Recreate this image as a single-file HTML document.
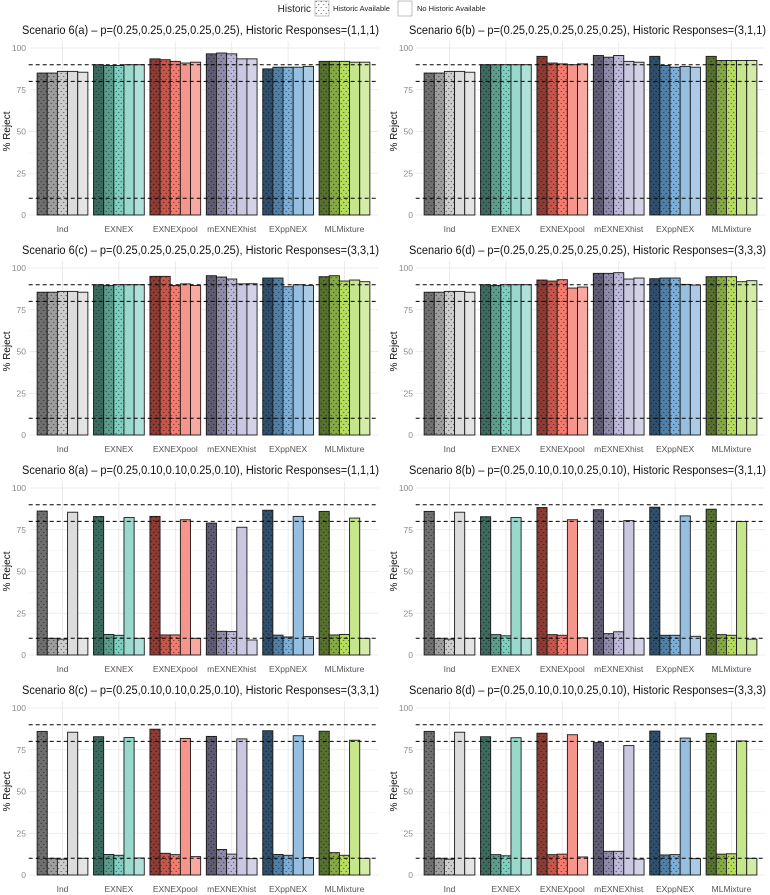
<!DOCTYPE html>
<html><head><meta charset="utf-8">
<style>
html,body{margin:0;padding:0;background:#fff;}
svg{display:block;font-family:"Liberation Sans",sans-serif;}
</style></head>
<body>
<svg id="chart" width="770" height="895" viewBox="0 0 770 895" xmlns="http://www.w3.org/2000/svg">
<defs>
<pattern id="dots" patternUnits="userSpaceOnUse" width="5" height="6">
<circle cx="1.2" cy="1.5" r="0.65" fill="rgba(0,0,0,0.55)"/>
<circle cx="3.7" cy="4.5" r="0.65" fill="rgba(0,0,0,0.55)"/>
</pattern>
</defs>
<g id="legend">
<text x="311" y="12" font-size="10" text-anchor="end" fill="#222">Historic</text>
<g>
<rect x="315" y="1" width="14" height="15" fill="#fff" stroke="#999" stroke-width="0.6"/>
<rect x="315" y="1" width="14" height="15" fill="url(#dots)"/>
<text x="333" y="11" font-size="7.5" fill="#222">Historic Available</text>
</g>
<g>
<rect x="398" y="1" width="14" height="15" fill="#fff" stroke="#999" stroke-width="0.6"/>
<text x="417" y="11" font-size="7.5" fill="#222">No Historic Available</text>
</g>
</g>
</svg>
<script>
const methods = ["Ind","EXNEX","EXNEXpool","mEXNEXhist","EXppNEX","MLMixture"];
const yTicks = [0,25,50,75,100];
const refLines = [10,80,90];
const titles = [
 "Scenario 6(a) \u2013 p=(0.25,0.25,0.25,0.25,0.25), Historic Responses=(1,1,1)",
 "Scenario 6(b) \u2013 p=(0.25,0.25,0.25,0.25,0.25), Historic Responses=(3,1,1)",
 "Scenario 6(c) \u2013 p=(0.25,0.25,0.25,0.25,0.25), Historic Responses=(3,3,1)",
 "Scenario 6(d) \u2013 p=(0.25,0.25,0.25,0.25,0.25), Historic Responses=(3,3,3)",
 "Scenario 8(a) \u2013 p=(0.25,0.10,0.10,0.25,0.10), Historic Responses=(1,1,1)",
 "Scenario 8(b) \u2013 p=(0.25,0.10,0.10,0.25,0.10), Historic Responses=(3,1,1)",
 "Scenario 8(c) \u2013 p=(0.25,0.10,0.10,0.25,0.10), Historic Responses=(3,3,1)",
 "Scenario 8(d) \u2013 p=(0.25,0.10,0.10,0.25,0.10), Historic Responses=(3,3,3)"
];
const historic = [true,true,true,false,false];
const s6a = [[85,85,86,86,85.5],[90,89.5,89.5,90,90],[93.5,93,92,91,91.5],[96.5,97,96.5,93.5,93.5],[87.5,88.5,88.5,88.5,89],[92,92,92,91.5,91.5]];
const s6b = [[85,85,86,86,85.5],[90,90,90,90,90],[95,91,90.5,90,90.5],[95.5,94.5,95.5,92,91.5],[95,89.5,88.5,89,88.5],[95,92.5,92.5,92.5,92.5]];
const s6c = [[85.5,85.5,86,86,85.5],[90,89.5,90,90,90],[95,95,89.5,90.5,89.5],[95.4,94.6,93.4,90.5,90.6],[94,94,88.8,90,89.6],[94.8,95.4,92.2,92.8,91.8]];
const s6d = [[85.5,85.5,86,86,85.5],[90,89.5,90,90,90],[92.8,92.2,93,88,88.6],[96.8,96.8,97.2,93.4,94],[93.6,94,94,90.2,89.8],[94.8,94.8,94.8,91.8,92.4]];
const s8a = [[86.2,10,9.5,85.5,10],[82.9,12.3,11.8,82.3,10],[83,12,12,81,10],[79,14.2,14,76.5,9],[86.7,11.9,10.8,83,11],[86,12,12.3,82,10]];
const s8b = [[86,10,9.5,85.5,10],[82.8,12.2,11.5,82.3,10],[88.3,12.2,11.8,81,10.3],[87,12.8,13.9,80.5,10],[88.5,11.8,11.8,83.3,11.2],[87.3,12.2,11.8,80,9.5]];
const s8c = [[86,10,9.5,85.5,10],[82.8,12.3,11.8,82.3,10.2],[87.3,13,12.2,81.8,11],[83,15.3,12.5,81.5,9.8],[86.4,12.3,11.8,83.4,10.5],[86.1,13.4,11.8,80.7,10]];
const s8d = [[86,10,9.5,85.5,10],[82.8,12.2,11.5,82.2,10],[84.9,12.2,12.5,84,10.8],[79.3,14.2,14.2,77.5,9.5],[86.2,12,12.2,82,9.8],[84.8,12.5,12.7,80.3,10]];
const panels = [s6a,s6b,s6c,s6d,s8a,s8b,s8c,s8d];
const palette = [
 ["#6f6f6f","#9e9e9e","#cdcdcd","#dcdcdc","#e4e4e4"],
 ["#3b6b5e","#5c9d8d","#7dcfbf","#98d9cc","#b0e1d8"],
 ["#8c3b35","#c6564b","#f47b6e","#f6958b","#f8aaa2"],
 ["#5f5b73","#8f8ba9","#bdb9d9","#cac7e1","#d4d2e6"],
 ["#304f6c","#5080a7","#7bafd9","#95bee1","#aacae5"],
 ["#56712f","#85a945","#b6de5d","#c6e68b","#d3eca6"]
];
const NS = "http://www.w3.org/2000/svg";
const svg = document.getElementById("chart");
function mk(tag, attrs, parent){ const e=document.createElementNS(NS,tag); for(const k in attrs) e.setAttribute(k,attrs[k]); (parent||svg).appendChild(e); return e; }
const plotH = 167, gap = 56.4, barW = 10.15;
panels.forEach((vals, p) => {
  const col = p % 2, row = Math.floor(p / 2);
  const ox = col * 387;
  const y0 = 215 + row * 220;
  const yScale = v => y0 - v / 100 * plotH;
  const xCenter = i => ox + 62.5 + i * gap;
  const left = ox + 28.7, right = ox + 378.3;
  const g = mk("g", {});
  
  
  for (let v = 12.5; v < 100; v += 25) mk("line",{x1:left,x2:right,y1:yScale(v),y2:yScale(v),stroke:"#f3f3f3","stroke-width":0.6},g);
  yTicks.forEach(t => {
    mk("line",{x1:left,x2:right,y1:yScale(t),y2:yScale(t),stroke:"#e6e6e6","stroke-width":0.8},g);
    const tx = mk("text",{x:ox+26,y:yScale(t)+3,"font-size":8.5,"text-anchor":"end",fill:"#8a8a8a"},g);
    tx.textContent = t;
    
    
  });
  methods.forEach((m,i) => mk("line",{x1:xCenter(i),x2:xCenter(i),y1:yScale(104),y2:y0,stroke:"#e6e6e6","stroke-width":0.8},g));
  vals.forEach((grp, i) => {
    grp.forEach((v, k) => {
      const x = xCenter(i) - 2.5 * barW + k * barW;
      const r = mk("rect",{x:x,y:yScale(v),width:barW,height:y0-yScale(v),fill:palette[i][k],stroke:"#1a1a1a","stroke-width":0.9},g);
      
      
      if (historic[k]) mk("rect",{x:x,y:yScale(v),width:barW,height:y0-yScale(v),fill:"url(#dots)"},g);
    });
    const lb = mk("text",{x:xCenter(i),y:y0+17,"font-size":8.5,"text-anchor":"middle",fill:"#555"},g);
    lb.textContent = methods[i];
    
    
  });
  refLines.forEach(v => {
    const l = mk("line",{x1:left,x2:right,y1:yScale(v),y2:yScale(v),stroke:"#000","stroke-width":1,"stroke-dasharray":"4,3"},g);
    
    
  });
  const t = mk("text",{x:ox+22,y:y0-plotH-14,"font-size":12.3,fill:"#111",textLength:357,lengthAdjust:"spacingAndGlyphs"},g);
  t.textContent = titles[p];
  
  
  const yl = mk("text",{x:0,y:0,"font-size":10,"text-anchor":"middle",fill:"#111",transform:"translate("+(ox+10)+","+(y0-plotH/2)+") rotate(-90)"},g);
  yl.textContent = "% Reject";
  
  
});
</script>
</body></html>
